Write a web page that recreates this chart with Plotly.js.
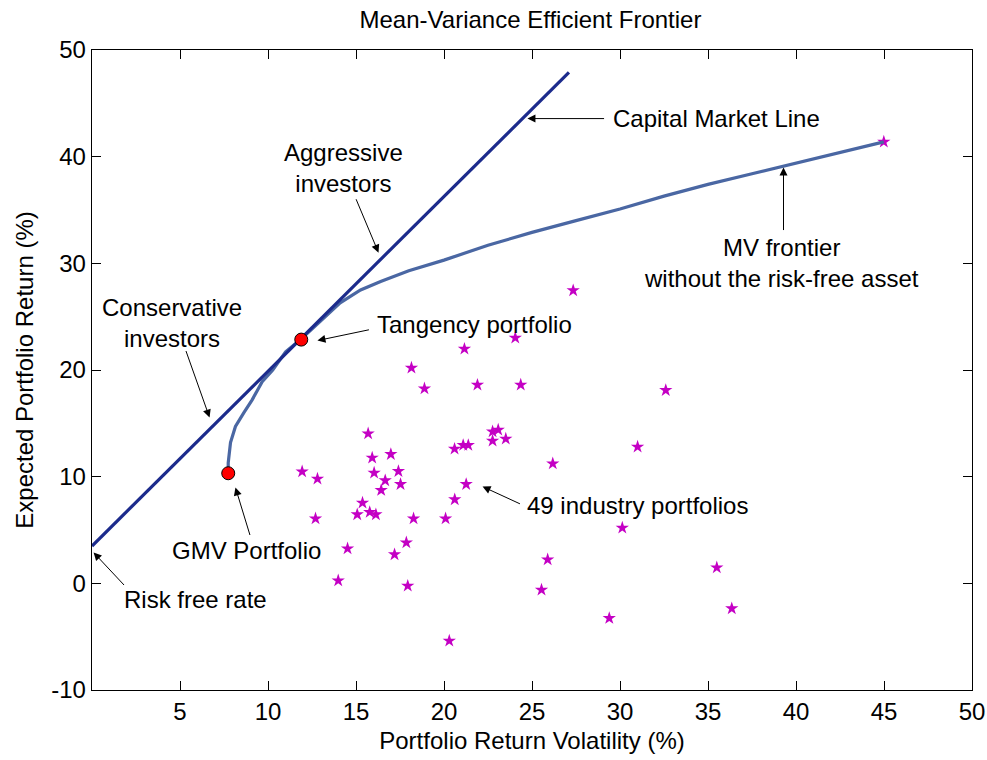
<!DOCTYPE html>
<html>
<head>
<meta charset="utf-8">
<script src="https://cdn.plot.ly/plotly-3.0.1.min.js"></script>
<style>
  html, body { margin: 0; padding: 0; background: #ffffff; }
  #chart { width: 987px; height: 760px; }
</style>
</head>
<body>
<div id="chart"></div>
<script>
// 49 industry portfolios: annualised volatility (%) and expected return (%)
const industryVol = [
  21.16, 18.15, 18.89, 21.90, 15.69, 16.98, 20.60, 21.09, 21.38, 15.92,
  11.94, 12.81, 16.03, 17.41, 16.66, 17.53, 16.43, 21.26, 20.61, 15.37,
  12.70, 15.07, 15.78, 16.13, 18.27, 20.09, 17.86, 14.52, 17.19, 13.99,
  17.94, 27.34, 24.05, 24.36, 22.76, 23.08, 22.76, 23.51, 26.18, 30.13,
  25.89, 25.54, 29.39, 20.30, 32.60, 31.00, 35.50, 36.35, 44.99
];
const industryRet = [
  21.98, 20.20, 18.26, 18.60, 14.04, 12.10, 12.60, 12.95, 12.95, 11.77,
  10.48,  9.80, 10.36, 10.51,  9.64,  9.29,  8.73,  9.29,  7.86,  7.55,
   6.07,  6.45,  6.67,  6.45,  6.07,  6.07,  3.82,  3.26,  2.70,  0.26,
  -0.24, 27.45, 23.01, 18.61, 14.23, 14.39, 13.36, 13.55, 11.23,  5.20,
   2.23, -0.61, -3.27, -5.39, 18.10, 12.80,  1.48, -2.36, 41.39
];

// Efficient frontier without the risk-free asset
const frontierVol = [
  7.74, 7.74, 7.87, 8.15, 8.63, 9.10, 9.67, 10.27, 11.00, 11.85,
  13.00, 14.10, 15.26, 16.40, 18.00, 20.00, 22.50, 25.00, 27.50, 30.00,
  32.50, 35.00, 37.50, 40.00, 42.50, 44.99
];
const frontierRet = [
  10.32, 11.30, 13.20, 14.70, 16.00, 17.20, 18.90, 20.00, 21.70, 22.85,
  24.60, 26.30, 27.50, 28.30, 29.30, 30.30, 31.70, 32.90, 34.00, 35.10,
  36.30, 37.40, 38.40, 39.40, 40.40, 41.39
];

// Capital market line, from the risk-free rate through the tangency portfolio
const cmlVol = [0.0, 27.10];
const cmlRet = [3.50, 47.90];

// Highlighted portfolios
const keyLabels = ['GMV Portfolio', 'Tangency portfolio'];
const keyVol = [7.74, 11.89];
const keyRet = [10.32, 22.85];

const xTicks = [5, 10, 15, 20, 25, 30, 35, 40, 45, 50];
const yTicks = [-10, 0, 10, 20, 30, 40, 50];

const FONT = 'Liberation Sans, Arial, Helvetica, sans-serif';
const FS = 24;

const traces = [
  {
    x: industryVol, y: industryRet, type: 'scatter', mode: 'markers',
    marker: { symbol: 'star', size: 10, color: '#c400c4', line: { width: 0 } },
    hoverinfo: 'x+y'
  },
  {
    x: frontierVol, y: frontierRet, type: 'scatter', mode: 'lines',
    line: { color: '#4a67a3', width: 3.2 }
  },
  {
    x: cmlVol, y: cmlRet, type: 'scatter', mode: 'lines',
    line: { color: '#1c2b8c', width: 3.2 }
  },
  {
    x: keyVol, y: keyRet, text: keyLabels, type: 'scatter', mode: 'markers',
    marker: { symbol: 'circle', size: 13, color: '#ff0000', line: { color: '#000000', width: 1 } }
  }
];

// arrow helper: head at (hx, hy), tail at (tx, ty), both in data units
function arrow(hx, hy, tx, ty) {
  return {
    x: hx, y: hy, ax: tx, ay: ty, xref: 'x', yref: 'y', axref: 'x', ayref: 'y',
    text: '', showarrow: true, arrowhead: 2, arrowsize: 1.6, arrowwidth: 1,
    arrowcolor: '#000000', standoff: 0, startstandoff: 0
  };
}
function label(txt, x, y, anchor) {
  return {
    x: x, y: y, xref: 'x', yref: 'y', text: txt, showarrow: false,
    xanchor: anchor, yanchor: 'middle', align: 'center',
    font: { family: FONT, size: FS, color: '#000000' }
  };
}

const annotations = [
  arrow(24.74, 43.57, 29.18, 43.57),
  label('Capital Market Line', 29.46, 43.57, 'left'),
  arrow(16.28, 31.0, 14.97, 36.15),
  label('Aggressive<br>investors', 14.28, 38.97, 'center'),
  arrow(6.68, 15.54, 5.31, 21.92),
  label('Conservative<br>investors', 4.57, 24.45, 'center'),
  arrow(12.81, 22.76, 15.82, 23.8),
  label('Tangency portfolio', 16.1, 24.26, 'left'),
  arrow(39.29, 38.98, 39.29, 32.98),
  label('MV frontier<br>without the risk-free asset', 39.17, 30.06, 'center'),
  arrow(22.19, 9.07, 24.4, 7.39),
  label('49 industry portfolios', 24.63, 7.29, 'left'),
  arrow(8.15, 8.98, 9.0, 4.39),
  label('GMV Portfolio', 8.78, 3.07, 'center'),
  arrow(0.09, 2.89, 1.9, -0.3),
  label('Risk free rate', 1.73, -1.5, 'left')
];

const layout = {
  width: 987, height: 760,
  margin: { l: 92, r: 15, t: 50, b: 70 },
  paper_bgcolor: '#ffffff', plot_bgcolor: '#ffffff',
  showlegend: false,
  font: { family: FONT, size: FS, color: '#000000' },
  title: {
    text: 'Mean-Variance Efficient Frontier',
    x: 0.5375, xanchor: 'center', y: 0.974, yanchor: 'middle',
    font: { family: FONT, size: FS, color: '#000000' }
  },
  xaxis: {
    range: [0, 50], tickvals: xTicks, ticktext: xTicks.map(String),
    ticks: 'inside', ticklen: 9, tickwidth: 1, tickcolor: '#000000',
    showline: true, linecolor: '#000000', linewidth: 1.3, mirror: 'allticks',
    showgrid: false, zeroline: false,
    tickfont: { family: FONT, size: FS, color: '#000000' },
    title: { text: 'Portfolio Return Volatility (%)', standoff: 8,
             font: { family: FONT, size: FS, color: '#000000' } }
  },
  yaxis: {
    range: [-10, 50], tickvals: yTicks, ticktext: yTicks.map(String),
    ticks: 'inside', ticklen: 9, tickwidth: 1, tickcolor: '#000000',
    showline: true, linecolor: '#000000', linewidth: 1.3, mirror: 'allticks',
    showgrid: false, zeroline: false,
    tickfont: { family: FONT, size: FS, color: '#000000' },
    title: { text: 'Expected Portfolio Return (%)', standoff: 10,
             font: { family: FONT, size: FS, color: '#000000' } }
  },
  annotations: annotations
};

Plotly.newPlot('chart', traces, layout, { displayModeBar: false, staticPlot: true });
</script>
</body>
</html>
